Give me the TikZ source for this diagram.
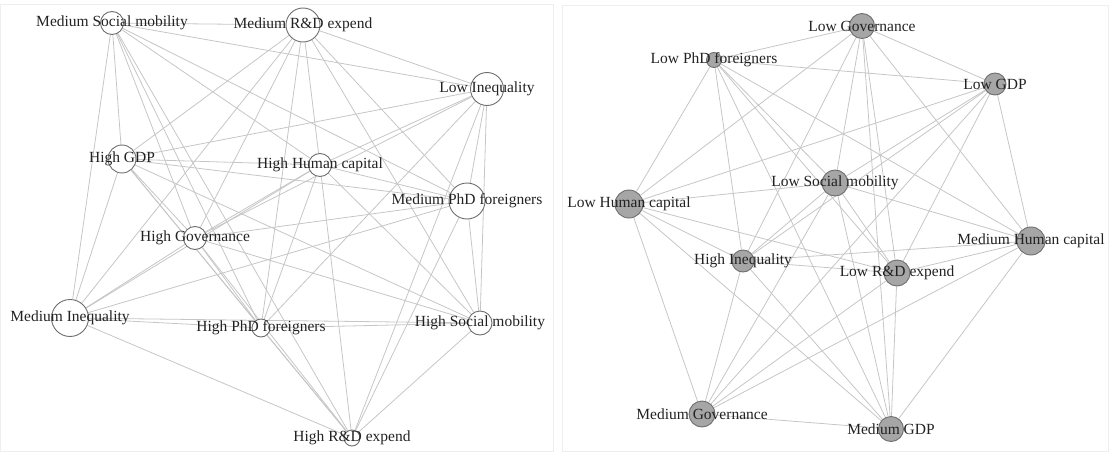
\documentclass[tikz,border=0pt]{standalone}
\usepackage{fontspec}
\setmainfont{Liberation Serif}
\usetikzlibrary{backgrounds}
\definecolor{edgecol}{HTML}{C6C6C6}
\definecolor{ringcol}{HTML}{6E6E6E}
\definecolor{fillcol}{HTML}{A6A6A6}
\definecolor{txtcol}{HTML}{222222}
\definecolor{framecol}{HTML}{EEEEEE}
\tikzset{
  vtxw/.style={circle, draw=ringcol, fill=white, line width=0.9pt, inner sep=0pt, minimum size=#1},
  vtxg/.style={circle, draw=ringcol, fill=fillcol, line width=0.9pt, inner sep=0pt, minimum size=#1},
  lab/.style={inner sep=0pt, text=txtcol, font=\fontsize{15.5}{18}\selectfont},
  edgeline/.style={draw=edgecol, line width=0.8pt},
  panelframe/.style={draw=framecol, line width=0.8pt}
}
\begin{document}
\begin{tikzpicture}[x=1pt,y=-1pt]
\useasboundingbox (0,0) rectangle (1109,452);
% left network vertices
\node[vtxw=23pt] (msm) at (112,23) {};
\node[vtxw=34pt] (mrd) at (303,25) {};
\node[vtxw=33pt] (li) at (487,89) {};
\node[vtxw=28pt] (hg) at (122,159) {};
\node[vtxw=23pt] (hhc) at (320,165) {};
\node[vtxw=36pt] (mpf) at (467,201) {};
\node[vtxw=23pt] (hgov) at (195,238) {};
\node[vtxw=37pt] (mi) at (70,318) {};
\node[vtxw=18pt] (hpf) at (261,328) {};
\node[vtxw=24pt] (hsm) at (480,323) {};
\node[vtxw=16pt] (hrd) at (352,438) {};
% right network vertices
\node[vtxg=25pt] (lgov) at (862,26) {};
\node[vtxg=15pt] (lpf) at (714,60) {};
\node[vtxg=22pt] (lgdp) at (995,84) {};
\node[vtxg=26pt] (lsm) at (835,183) {};
\node[vtxg=28pt] (lhc) at (629,204) {};
\node[vtxg=28pt] (mhc) at (1031,241) {};
\node[vtxg=22pt] (hi) at (743,261) {};
\node[vtxg=26pt] (lrd) at (897,273) {};
\node[vtxg=26pt] (mgov) at (702,414) {};
\node[vtxg=25pt] (mgdp) at (891,429) {};
\begin{pgfonlayer}{background}
\draw[panelframe] (0.5,4) rectangle (553,451.5);
\draw[panelframe] (562,5) rectangle (1108.5,451.5);
\foreach \a/\b in {msm/mrd,msm/hrd,msm/li,msm/mi,msm/hg,msm/hhc,msm/mpf,msm/hpf,msm/hgov,
  hsm/mrd,hsm/hrd,hsm/li,hsm/mi,hsm/hg,hsm/hhc,hsm/mpf,hsm/hpf,hsm/hgov,
  mrd/li,mrd/mi,mrd/hg,mrd/hhc,mrd/mpf,mrd/hpf,mrd/hgov,
  hrd/li,hrd/mi,hrd/hg,hrd/hhc,hrd/mpf,hrd/hpf,hrd/hgov,
  li/hg,li/hhc,li/mpf,li/hpf,li/hgov,
  mi/hg,mi/hhc,mi/mpf,mi/hpf,mi/hgov,
  hg/hhc,hg/mpf,hg/hpf,hg/hgov,
  hhc/mpf,hhc/hpf,hhc/hgov,
  mpf/hgov,hpf/hgov}
  \draw[edgeline] (\a) -- (\b);
\foreach \a/\b in {lgov/lpf,lgov/lgdp,lgov/mgdp,lgov/lsm,lgov/lhc,lgov/mhc,lgov/hi,lgov/lrd,
  mgov/lgdp,mgov/mgdp,mgov/lsm,mgov/lhc,mgov/mhc,mgov/hi,mgov/lrd,
  lpf/lgdp,lpf/mgdp,lpf/lsm,lpf/lhc,lpf/mhc,lpf/hi,lpf/lrd,
  lgdp/lsm,lgdp/lhc,lgdp/mhc,lgdp/hi,lgdp/lrd,
  mgdp/lsm,mgdp/lhc,mgdp/mhc,mgdp/hi,mgdp/lrd,
  lsm/lhc,lsm/mhc,lsm/hi,lsm/lrd,
  lhc/hi,lhc/lrd,mhc/hi,mhc/lrd,hi/lrd}
  \draw[edgeline] (\a) -- (\b);
\end{pgfonlayer}
% labels
\node[lab] (tmsm) at (msm) {Medium Social mobility};
\node[lab] (tmrd) at (mrd) {Medium R\&D expend};
\node[lab] (tli) at (li) {Low Inequality};
\node[lab] (thg) at (hg) {High GDP};
\node[lab] (thhc) at (hhc) {High Human capital};
\node[lab] (tmpf) at (mpf) {Medium PhD foreigners};
\node[lab] (thgov) at (hgov) {High Governance};
\node[lab] (tmi) at (mi) {Medium Inequality};
\node[lab] (thpf) at (hpf) {High PhD foreigners};
\node[lab] (thsm) at (hsm) {High Social mobility};
\node[lab] (thrd) at (hrd) {High R\&D expend};
\node[lab] (tlgov) at (lgov) {Low Governance};
\node[lab] (tlpf) at (lpf) {Low PhD foreigners};
\node[lab] (tlgdp) at (lgdp) {Low GDP};
\node[lab] (tlsm) at (lsm) {Low Social mobility};
\node[lab] (tlhc) at (lhc) {Low Human capital};
\node[lab] (tmhc) at (mhc) {Medium Human capital};
\node[lab] (thi) at (hi) {High Inequality};
\node[lab] (tlrd) at (lrd) {Low R\&D expend};
\node[lab] (tmgov) at (mgov) {Medium Governance};
\node[lab] (tmgdp) at (mgdp) {Medium GDP};
\end{tikzpicture}
\end{document}
